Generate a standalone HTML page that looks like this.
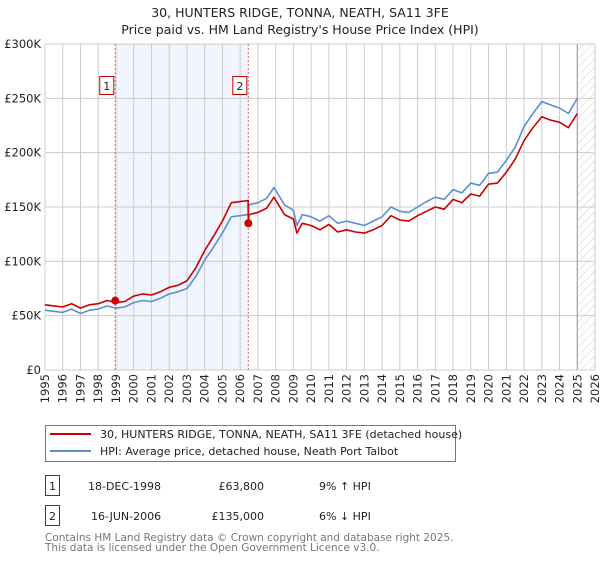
<!DOCTYPE html>
<html><head><meta charset="utf-8"><style>
html,body{margin:0;padding:0;background:#fff;}
body{width:600px;height:560px;overflow:hidden;font-family:"DejaVu Sans","Liberation Sans",sans-serif;}
</style></head><body>
<svg id="chart" width="600" height="560" xmlns="http://www.w3.org/2000/svg" font-family="DejaVu Sans, Liberation Sans, sans-serif">
<defs><pattern id="hatch" patternUnits="userSpaceOnUse" width="6" height="6" patternTransform="rotate(45)"><line x1="0" y1="0" x2="0" y2="6" stroke="#ccc" stroke-width="1"/></pattern></defs>
<text x="300" y="17" text-anchor="middle" font-size="12.5" fill="#222">30, HUNTERS RIDGE, TONNA, NEATH, SA11 3FE</text>
<text x="300" y="34" text-anchor="middle" font-size="12.5" fill="#222">Price paid vs. HM Land Registry's House Price Index (HPI)</text>
<g id="grid"></g>
<g id="series"></g>
<g id="annot"></g>
<g>
<rect x="45.5" y="425.5" width="410" height="36" fill="#fff" stroke="#777"/>
<line x1="50" y1="434" x2="91" y2="434" stroke="#cc0000" stroke-width="2"/>
<text x="100" y="438" font-size="11" fill="#222">30, HUNTERS RIDGE, TONNA, NEATH, SA11 3FE (detached house)</text>
<line x1="50" y1="451" x2="91" y2="451" stroke="#5b8fd4" stroke-width="2"/>
<text x="100" y="455" font-size="11" fill="#222">HPI: Average price, detached house, Neath Port Talbot</text>
</g>
<g font-size="11" fill="#222">
<rect x="45.5" y="475.5" width="14" height="20" fill="#fff" stroke="#cc0000"/>
<text x="52.5" y="490" text-anchor="middle">1</text>
<text x="88" y="490">18-DEC-1998</text>
<text x="264" y="490" text-anchor="end">£63,800</text>
<text x="319" y="490">9% ↑ HPI</text>
<rect x="45.5" y="505.5" width="14" height="20" fill="#fff" stroke="#cc0000"/>
<text x="52.5" y="520" text-anchor="middle">2</text>
<text x="91" y="520">16-JUN-2006</text>
<text x="264" y="520" text-anchor="end">£135,000</text>
<text x="319" y="520">6% ↓ HPI</text>
</g>
<text x="45" y="541" font-size="10.5" fill="#777">Contains HM Land Registry data © Crown copyright and database right 2025.</text>
<text x="45" y="551" font-size="10.5" fill="#777">This data is licensed under the Open Government Licence v3.0.</text>
</svg>
<script>
const hpiYears=[1995,1995.5,1996,1996.5,1997,1997.5,1998,1998.5,1999,1999.5,2000,2000.5,2001,2001.5,2002,2002.5,2003,2003.5,2004,2004.5,2005,2005.5,2006,2006.45,2006.5,2007,2007.5,2007.9,2008.5,2009,2009.2,2009.5,2010,2010.5,2011,2011.5,2012,2012.5,2013,2013.5,2014,2014.5,2015,2015.5,2016,2016.5,2017,2017.5,2018,2018.5,2019,2019.5,2020,2020.5,2021,2021.5,2022,2022.5,2023,2023.5,2024,2024.5,2025];
const hpiValues=[55,54,53,56,52,55,56,59,57,58,62,64,63,66,70,72,75,86,101,113,126,141,142,143,152,154,158,168,152,147,133,143,141,137,142,135,137,135,133,137,141,150,146,145,150,155,159,157,166,163,172,170,181,182,193,205,224,236,247,244,241,236,250];
const redYears=[1995,1995.5,1996,1996.5,1997,1997.5,1998,1998.5,1999,1999.5,2000,2000.5,2001,2001.5,2002,2002.5,2003,2003.5,2004,2004.5,2005,2005.5,2006,2006.45,2006.46,2006.5,2007,2007.5,2007.9,2008.5,2009,2009.2,2009.5,2010,2010.5,2011,2011.5,2012,2012.5,2013,2013.5,2014,2014.5,2015,2015.5,2016,2016.5,2017,2017.5,2018,2018.5,2019,2019.5,2020,2020.5,2021,2021.5,2022,2022.5,2023,2023.5,2024,2024.5,2025];
const redValues=[60,59,58,61,57,60,61,64,62,63,68,70,69,72,76,78,82,94,110,123,137,154,155,156,135,143,145,149,159,143,139,126,135,133,129,134,127,129,127,126,129,133,142,138,137,142,146,150,148,157,154,162,160,171,172,182,194,211,223,233,230,228,223,236];
const saleYears=[1998.96,2006.46];
const saleValues=[63.8,135];
const saleLabels=["1","2"];
const yTicks=[0,50,100,150,200,250,300];
const yTickLabels=["£0","£50K","£100K","£150K","£200K","£250K","£300K"];
const xTicks=[1995,1996,1997,1998,1999,2000,2001,2002,2003,2004,2005,2006,2007,2008,2009,2010,2011,2012,2013,2014,2015,2016,2017,2018,2019,2020,2021,2022,2023,2024,2025,2026];

const X0=45,X1=595,Y0=370,Y1=44;
const xs=y=>X0+(y-1995)/(2026-1995)*(X1-X0);
const ys=v=>Y0-v/300*(Y0-Y1);
const NS="http://www.w3.org/2000/svg";
function mk(tag,attrs,parent){const e=document.createElementNS(NS,tag);for(const k in attrs)e.setAttribute(k,attrs[k]);parent.appendChild(e);return e;}
const grid=document.getElementById('grid'),series=document.getElementById('series'),annot=document.getElementById('annot');
const band=mk('rect',{x:xs(saleYears[0]),y:Y1,width:xs(saleYears[1])-xs(saleYears[0]),height:Y0-Y1,fill:'#eef3fc',opacity:0.8},grid);


const hatch=mk('rect',{x:xs(2025),y:Y1,width:X1-xs(2025),height:Y0-Y1,fill:'url(#hatch)'},grid);


xTicks.forEach(t=>{
  const l=mk('line',{x1:xs(t),x2:xs(t),y1:Y1,y2:Y0,stroke:'#cccccc','stroke-width':1},grid);
  
  
  const px=xs(t)+4,py=374;
  const tx=mk('text',{x:px,y:py,'text-anchor':'end','font-size':11.5,fill:'#222',transform:'rotate(-90 '+px+' '+py+')'},grid);
  tx.textContent=t;
  
  
});
yTicks.forEach((t,i)=>{
  const l=mk('line',{x1:X0,x2:X1,y1:ys(t),y2:ys(t),stroke:'#cccccc','stroke-width':1},grid);
  
  
  const tx=mk('text',{x:41,y:ys(t)+4,'text-anchor':'end','font-size':11.5,fill:'#222'},grid);
  tx.textContent=yTickLabels[i];
  
  
});
const nowLine=mk('line',{x1:xs(2025),x2:xs(2025),y1:Y1,y2:Y0,stroke:'#999','stroke-width':1},grid);


saleYears.forEach(s=>{
  const l=mk('line',{x1:xs(s),x2:xs(s),y1:Y1,y2:Y0,stroke:'#e06666','stroke-width':1,'stroke-dasharray':'2,2'},grid);
  
  
});
function path(xa,va){return xa.map((x,i)=>(i?'L':'M')+xs(x).toFixed(1)+','+ys(va[i]).toFixed(1)).join(' ');}
const hp=mk('path',{d:path(hpiYears,hpiValues),fill:'none',stroke:'#5b8fd4','stroke-width':1.6,'stroke-linejoin':'round'},series);


const rp=mk('path',{d:path(redYears,redValues),fill:'none',stroke:'#cc0000','stroke-width':1.6,'stroke-linejoin':'round'},series);


saleYears.forEach((s,i)=>{
  const c=mk('circle',{cx:xs(s),cy:ys(saleValues[i]),r:4,fill:'#cc0000'},annot);
  
  
  const r=mk('rect',{x:xs(s)-15.5,y:76.5,width:14,height:18,fill:'#fff',stroke:'#cc0000'},annot);
  
  
  const t=mk('text',{x:xs(s)-8.5,y:90,'text-anchor':'middle','font-size':11,fill:'#222'},annot);
  t.textContent=saleLabels[i];
  
  
});
</script>
</body></html>
